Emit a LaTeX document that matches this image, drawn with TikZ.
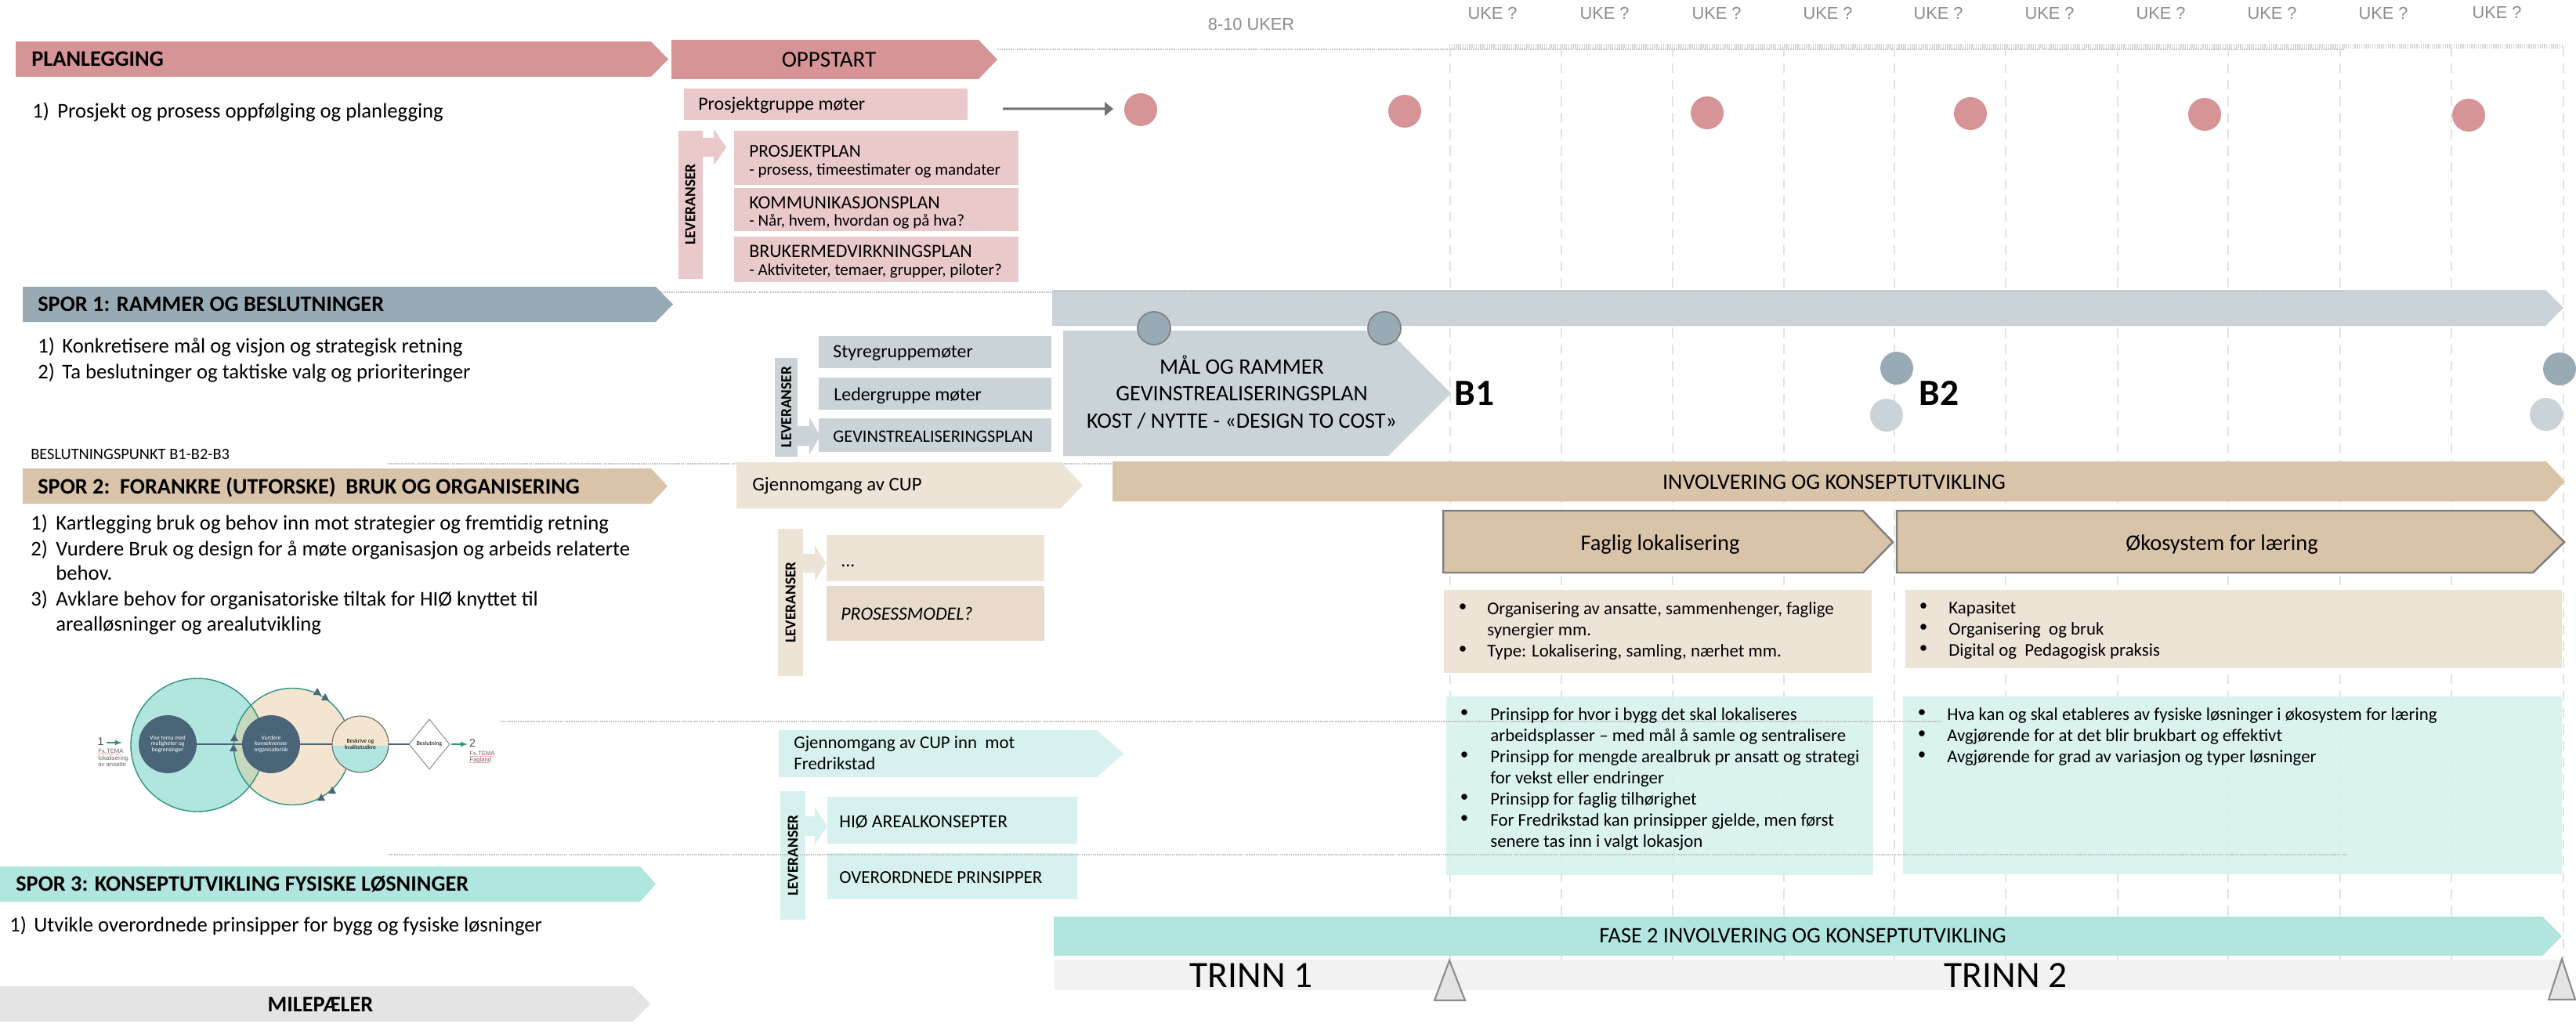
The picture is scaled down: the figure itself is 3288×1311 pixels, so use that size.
\documentclass[tikz,border=0pt]{standalone}
\usepackage{fontspec}
\setmainfont{Carlito}
\newfontfamily\arialf{Liberation Sans}
\usetikzlibrary{calc,shapes.geometric}
\definecolor{pinkD}{HTML}{D69496}
\definecolor{pinkL}{HTML}{EAC9CB}
\definecolor{blueD}{HTML}{98AAB4}
\definecolor{blueL}{HTML}{C9D3D8}
\definecolor{tanD}{HTML}{D9C3A9}
\definecolor{tanL}{HTML}{EDE3D7}
\definecolor{tanM}{HTML}{E8DBCC}
\definecolor{tealD}{HTML}{B0E6DF}
\definecolor{tealL}{HTML}{D7F2EE}
\definecolor{milD}{HTML}{E4E4E4}
\definecolor{trinnL}{HTML}{F2F2F2}
\definecolor{ringG}{HTML}{2F9484}
\definecolor{slateD}{HTML}{4A6578}
\definecolor{overlapC}{HTML}{C6D9BE}
\definecolor{beigeC}{HTML}{F3E5D0}
\definecolor{gridC}{HTML}{E3E3E3}
\definecolor{dotC}{HTML}{C4C4C4}
% x, y in reference pixels
\newcommand{\chev}[6]{% fill, x0, x1 body, x2 tip, ytop, ybot
  \fill[#1] (#2,#5) -- (#3,#5) -- (#4,{(#5+#6)/2}) -- (#3,#6) -- (#2,#6) -- cycle;}
\newcommand{\blockarrow}[6]{% fill, x0, xhead, xtip, shaft top, shaft bot
  \fill[#1] (#2,#5) -- (#3,#5) -- (#3,{#5-11}) -- (#4,{(#5+#6)/2}) -- (#3,{#6+11}) -- (#3,#6) -- (#2,#6) -- cycle;}
\tikzset{
  x=0.02cm, y=-0.02cm,
  txt/.style={anchor=west, inner sep=0, text height=9pt, text depth=0pt, font=\fontsize{15.2}{17}\selectfont},
  head/.style={anchor=west, inner sep=0, text height=10pt, text depth=0pt, font=\fontsize{16.1}{18}\selectfont\bfseries},
  lbl/.style={inner sep=0, text height=9pt, text depth=0pt, font=\fontsize{13.6}{16}\selectfont},
  small/.style={anchor=west, inner sep=0, text height=8pt, text depth=0.5pt, font=\fontsize{13}{15}\selectfont},
  lev/.style={rotate=90, inner sep=0, font=\fontsize{11}{14}\selectfont\bfseries},
  uke/.style={inner sep=0, text=black!45, font=\arialf\fontsize{12.4}{14}\selectfont},
  pinkdot/.style={circle, fill=pinkD, minimum size=0.84cm, inner sep=0},
  bluedot/.style={circle, fill=blueD, minimum size=0.84cm, inner sep=0},
  paledot/.style={circle, fill=blueL, minimum size=0.84cm, inner sep=0},
  ringdot/.style={circle, fill=blueD, draw=black!50, line width=1pt, minimum size=0.84cm, inner sep=0},
  dotline/.style={dotC, line width=1pt, dash pattern=on 1pt off 0.6pt},
  gridline/.style={gridC, line width=1.5pt, dash pattern=on 7pt off 5pt},
  tiny/.style={inner sep=0, align=center, font=\fontsize{4.3}{4.3}\selectfont},
  fx/.style={anchor=west, inner sep=0, text=black!60, font=\arialf\fontsize{4.4}{5}\selectfont},
  tri/.style={fill=slateD},
  bul/.style={inner sep=0, font=\fontsize{12}{15}\selectfont},
  outlined/.style={draw=black!50, line width=1.4pt, fill=tanD},
  bigc/.style={lbl, text height=10pt, font=\fontsize{16}{18}\selectfont},
  midl/.style={lbl, text height=10pt, text depth=2pt, font=\fontsize{16.2}{18}\selectfont},
}
\newcommand{\pbul}[4]{% bullet x, text x, y, text
  \node[bul] at (#1,#3-2) {•}; \node[small] at (#2,#3) {#4};}
\begin{document}
\begin{tikzpicture}
\useasboundingbox (0,0) rectangle (3288,1311);
\fill[white] (0,0) rectangle (3288,1311);

% top dotted lines
\coordinate (tl) at (1273,63); \coordinate (tr) at (2992,63);
\draw[dotline] (tl) -- (tr);
\coordinate (tl2) at (1850,59); \coordinate (tr2) at (3272,59);
\draw[dotC!70, line width=3pt, dash pattern=on 0.8pt off 0.8pt] (tl2) -- (tr2);

% vertical grid
\foreach \x in {1851,1993,2135,2277,2418,2560,2703,2844,2987,3129,3272}
  \draw[gridline] (\x,60) -- (\x,1225);

% tracks dotted
\coordinate (s1a) at (840,373); \coordinate (s1b) at (1345,373);
\draw[dotline] (s1a) -- (s1b);
\coordinate (s2a) at (495,592); \coordinate (s2b) at (1420,592);
\draw[dotline] (s2a) -- (s2b);

% PLANLEGGING
\chev{pinkD}{20}{831}{853}{53}{98}
\chev{pinkD}{857}{1249}{1273}{51}{101}
\node[head] (plan) at (40,76) {PLANLEGGING};
\node[lbl, text height=10pt, font=\fontsize{16.5}{18}\selectfont] (opp) at (1058,77) {OPPSTART};
\node[txt] (t1a) at (41,143) {1)};
\node[txt] (t1b) at (73,143) {Prosjekt og prosess oppfølging og planlegging};
\fill[pinkL] (873,113) rectangle (1235,153);
\node[small, font=\fontsize{13.6}{16}\selectfont] (pgm) at (891,134) {Prosjektgruppe møter};
\fill[pinkL] (866,167) rectangle (897,356);
\node[lev] (lev0) at (881,261) {LEVERANSER};
\blockarrow{pinkL}{897}{911}{927}{176}{200}
\fill[pinkL] (937,167) rectangle (1300,236);
\fill[pinkL] (937,240) rectangle (1300,295);
\fill[pinkL] (937,302) rectangle (1300,360);
\node[lbl, anchor=west, font=\fontsize{13.2}{16}\selectfont] (pp) at (956,193) {PROSJEKTPLAN};
\node[small, font=\fontsize{12}{14}\selectfont] (pp2) at (956,217) {- prosess, timeestimater og mandater};
\node[lbl, anchor=west] (kp) at (956,259) {KOMMUNIKASJONSPLAN};
\node[small, font=\fontsize{12}{14}\selectfont] (kp2) at (956,282) {- Når, hvem, hvordan og på hva?};
\node[lbl, anchor=west] (bp) at (956,321) {BRUKERMEDVIRKNINGSPLAN};
\node[small, font=\fontsize{12}{14}\selectfont] (bp2) at (956,345) {- Aktiviteter, temaer, grupper, piloter?};

% arrow and pink dots
\node[pinkdot] (p1) at (1456,140) {};
\node[pinkdot] (p2) at (1793,142) {};
\node[pinkdot] (p3) at (2179,144) {};
\node[pinkdot] (p4) at (2515,145) {};
\node[pinkdot] (p5) at (2814,146) {};
\node[pinkdot] (p6) at (3151,147) {};
\fill[black!55] (1280,137.5) -- (1410,137.5) -- (1410,130) -- (1421,139) -- (1410,148) -- (1410,140.5) -- (1280,140.5) -- cycle;

% week labels
\node[uke] (u0) at (1597,31) {8-10 UKER};
\foreach \x/\y [count=\i] in {1905/17,2048/17,2191/17,2333/17,2474/17,2616/17,2758/17,2900/17,3042/17,3187/16}
  \node[uke] (uk\i) at (\x,\y) {UKE ?};

% SPOR 1
\chev{blueD}{29}{837}{859}{366}{411}
\node[head] (s1) at (48,389) {SPOR 1: RAMMER OG BESLUTNINGER};
\node[txt] at (48,443) {1)};
\node[txt] at (79,443) {Konkretisere mål og visjon og strategisk retning};
\node[txt] at (48,476) {2)};
\node[txt] at (79,476) {Ta beslutninger og taktiske valg og prioriteringer};
\node[small, font=\fontsize{11.6}{14}\selectfont] (bes) at (39,580) {BESLUTNINGSPUNKT B1-B2-B3};
\chev{blueL}{1343}{3249}{3272}{370}{416}
\draw[dotline] (1345,372) -- (2992,372);
\chev{blueL}{1357}{1772}{1852}{422}{582}
\node[ringdot] (c1) at (1473,419) {};
\node[ringdot] (c2) at (1767,419) {};
\node[bigc] at (1585,469) {MÅL OG RAMMER};
\node[bigc] at (1585,503) {GEVINSTREALISERINGSPLAN};
\node[bigc] at (1585,538) {KOST / NYTTE - «DESIGN TO COST»};
\node[inner sep=0, font=\fontsize{27}{30}\selectfont\bfseries] (b1) at (1882,502) {B1};
\node[inner sep=0, font=\fontsize{27}{30}\selectfont\bfseries] (b2) at (2475,502) {B2};
\node[bluedot] (d1) at (2421,470) {};
\node[paledot] (d2) at (2408,530) {};
\node[bluedot] (d3) at (3267,471) {};
\node[paledot] (d4) at (3250,529) {};
\fill[blueL] (1045,429) rectangle (1342,470);
\fill[blueL] (1045,482) rectangle (1342,523);
\fill[blueL] (1045,534) rectangle (1342,577);
\node[small, font=\fontsize{13.6}{16}\selectfont] at (1063,450) {Styregruppemøter};
\node[small, font=\fontsize{13.6}{16}\selectfont] at (1064,505) {Ledergruppe møter};
\node[lbl, anchor=west, font=\fontsize{12.7}{16}\selectfont] at (1063,557) {GEVINSTREALISERINGSPLAN};
\fill[blueL] (989,457) rectangle (1018,583);
\node[lev] at (1003.5,519.5) {LEVERANSER};
\blockarrow{blueL}{1018}{1033}{1047}{544}{569}

% SPOR 2
\chev{tanD}{29}{831}{852}{598}{643}
\node[head] at (48,622) {SPOR 2:\ \ FORANKRE (UTFORSKE)\ \ BRUK OG ORGANISERING};
\node[txt] at (39,669) {1)};
\node[txt] at (71,669) {Kartlegging bruk og behov inn mot strategier og fremtidig retning};
\node[txt] at (39,702) {2)};
\node[txt] at (71,702) {Vurdere Bruk og design for å møte organisasjon og arbeids relaterte};
\node[txt] at (71,733) {behov.};
\node[txt] at (39,766) {3)};
\node[txt] at (71,766) {Avklare behov for organisatoriske tiltak for HIØ knyttet til};
\node[txt] at (71,798) {arealløsninger og arealutvikling};
\chev{tanL}{940}{1354}{1382}{590}{649}
\node[small, font=\fontsize{14.1}{16}\selectfont] at (960,620) {Gjennomgang av CUP};
\fill[tanL] (993,675) rectangle (1025,863);
\node[lev] at (1009,769) {LEVERANSER};
\blockarrow{tanL}{1025}{1040}{1054}{707}{731}
\fill[tanL] (1055,683) rectangle (1333,742);
\fill[tanM] (1055,748) rectangle (1333,818);
\node[lbl, anchor=west] at (1073,716) {...};
\node[lbl, anchor=west, font=\fontsize{13.6}{16}\selectfont\itshape] at (1073,784) {PROSESSMODEL?};

\chev{tanD}{1420}{3250}{3274}{589}{640}
\node[lbl, font=\fontsize{16.1}{18}\selectfont] at (2341,617) {INVOLVERING OG KONSEPTUTVIKLING};
\draw[outlined] (1842,652) -- (2378,652) -- (2416,692) -- (2378,731) -- (1842,731) -- cycle;
\draw[outlined] (2421,652) -- (3233,652) -- (3273,692) -- (3233,731) -- (2421,731) -- cycle;
\node[midl] (fl) at (2119,695) {Faglig lokalisering};
\node[midl] (ok) at (2836,695) {Økosystem for læring};

\fill[tanL] (1843,753) rectangle (2389,859);
\fill[tanL] (2432,753) rectangle (3270,853);
\pbul{1867}{1898}{778}{Organisering av ansatte, sammenhenger, faglige}
\node[small] at (1898,805) {synergier mm.};
\pbul{1867}{1898}{832}{Type: Lokalisering, samling, nærhet mm.}
\pbul{2455}{2487}{777}{Kapasitet}
\pbul{2455}{2487}{804}{Organisering\ \ og bruk}
\pbul{2455}{2487}{831}{Digital og\ \ Pedagogisk praksis}

% Fredrikstad box
\chev{tealL}{994}{1400}{1434}{932}{992}
\node[small, font=\fontsize{13}{16}\selectfont] at (1013,949) {Gjennomgang av CUP inn\ \ mot};
\node[small, font=\fontsize{13}{16}\selectfont] at (1013,976) {Fredrikstad};

% teal boxes (translucent so lines show through)
\fill[tealL, opacity=0.9] (1846,889) rectangle (2391,1117);
\fill[tealL, opacity=0.9] (2429,889) rectangle (3270,1116);
\coordinate (m1a) at (639,921); \coordinate (m1b) at (2480,921);
\draw[dotline] (m1a) -- (m1b);
\pbul{1869}{1902}{913}{Prinsipp for hvor i bygg det skal lokaliseres}
\node[small] at (1902,940) {arbeidsplasser – med mål å samle og sentralisere};
\pbul{1869}{1902}{967}{Prinsipp for mengde arealbruk pr ansatt og strategi}
\node[small] at (1902,994) {for vekst eller endringer};
\pbul{1869}{1902}{1021}{Prinsipp for faglig tilhørighet}
\pbul{1869}{1902}{1048}{For Fredrikstad kan prinsipper gjelde, men først}
\node[small] at (1902,1075) {senere tas inn i valgt lokasjon};
\pbul{2453}{2485}{913}{Hva kan og skal etableres av fysiske løsninger i økosystem for læring}
\pbul{2453}{2485}{940}{Avgjørende for at det blir brukbart og effektivt}
\pbul{2453}{2485}{967}{Avgjørende for grad av variasjon og typer løsninger}

\fill[tealL] (996,1010) rectangle (1028,1174);
\blockarrow{tealL}{1028}{1040}{1056}{1042}{1067}
\fill[tealL] (1056,1017) rectangle (1375,1077);
\fill[tealL] (1056,1089) rectangle (1375,1148);
\coordinate (m2a) at (495,1091); \coordinate (m2b) at (2996,1091);
\draw[dotline] (m2a) -- (m2b);
\node[lev] at (1012,1092) {LEVERANSER};
\node[lbl, anchor=west, font=\fontsize{13.4}{16}\selectfont] at (1071,1049) {HIØ AREALKONSEPTER};
\node[lbl, anchor=west, font=\fontsize{13.1}{16}\selectfont] at (1071,1120) {OVERORDNEDE PRINSIPPER};

% SPOR 3
\chev{tealD}{0}{817}{837}{1106}{1151}
\node[head] at (20,1129) {SPOR 3: KONSEPTUTVIKLING FYSISKE LØSNINGER};
\node[txt] at (12,1182) {1)};
\node[txt] at (43,1182) {Utvikle overordnede prinsipper for bygg og fysiske løsninger};

% FASE 2
\chev{tealD}{1345}{3245}{3270}{1170}{1220}
\node[lbl, font=\fontsize{16.1}{18}\selectfont] at (2301,1196) {FASE 2 INVOLVERING OG KONSEPTUTVIKLING};

% TRINN
\fill[trinnL] (1346,1225) rectangle (3270,1264);
\node[inner sep=0, font=\fontsize{27}{30}\selectfont] at (1597,1245) {TRINN 1};
\node[inner sep=0, font=\fontsize{27}{30}\selectfont] at (2560,1245) {TRINN 2};
\draw[fill=milD, draw=black!45, line width=1.2pt, line join=miter] (1850,1226) -- (1870,1277) -- (1831,1277) -- cycle;
\draw[fill=milD, draw=black!45, line width=1.2pt, line join=miter] (3270,1224) -- (3287,1276) -- (3253,1276) -- cycle;

% MILEPÆLER
\chev{milD}{0}{808}{830}{1259}{1304}
\node[lbl, text height=10pt, font=\fontsize{16.1}{18}\selectfont\bfseries] at (409,1283) {MILEPÆLER};

% small cycle diagram
\fill[tealD] (252,951) circle (85);
\fill[beigeC] (373,953) circle (74.5);
\begin{scope}
  \clip (252,951) circle (85);
  \fill[overlapC] (373,953) circle (74.5);
\end{scope}
\draw[ringG, line width=0.8pt] (252,951) circle (85);
\draw[ringG, line width=0.8pt] (373,953) circle (74.5);
\node[circle, fill=slateD, minimum size=1.48cm, inner sep=0] (v1) at (214,950) {};
\node[circle, fill=slateD, minimum size=1.48cm, inner sep=0] (v2) at (346,950) {};
\node[circle, minimum size=1.44cm, inner sep=0] (v3) at (460,950) {};
\fill[beigeC] (460,950) circle (36);
\begin{scope}
  \clip (420,952) rectangle (500,1000);
  \fill[tealD] (460,950) circle (36);
\end{scope}
\draw[black!60, line width=0.6pt] (460,950) circle (36);
\node[diamond, draw=black!50, fill=white, line width=0.5pt, minimum width=1.04cm, minimum height=1.28cm, inner sep=0, aspect=0.8] (v4) at (548,950) {};
\draw[slateD, line width=0.8pt] (v1) -- (v2);
\draw[slateD, line width=0.8pt] (v2) -- (v3);
\draw[slateD, line width=0.8pt] (v3) -- (v4);
\node[tiny, text=white] at (214,950) {Vise tema med\\muligheter og\\begrensinger};
\node[tiny, text=white] at (346,950) {Vurdere\\konsekvenser\\organisatorisk};
\node[tiny] at (460,950) {Beskrive og\\kvalitetssikre};
\node[tiny] at (548,950) {Beslutning};
\foreach \xx/\yy in {299/942,298/955,405/883,415/890,424/1009,410/1018}
  \fill[tri] (\xx,\yy-5) -- (\xx+5,\yy+4) -- (\xx-5,\yy+4) -- cycle;
\node[inner sep=0, text=black!70, font=\arialf\fontsize{8}{9}\selectfont] (n1) at (128.5,947) {1};
\coordinate (a1a) at (135.5,948); \coordinate (a1b) at (156,948);
\draw[ringG, line width=0.8pt, -{latex}] (a1a) -- (a1b);
\node[fx] at (125,959) {Fx.TEMA};
\node[fx] at (125,968) {lokalisering};
\node[fx] at (125,976) {av ansatte};
\draw[red!35, line width=0.3pt] (125,962.5) -- (155,962.5);
\node[inner sep=0, text=black!70, font=\arialf\fontsize{8}{9}\selectfont] (n2) at (603,949) {2};
\coordinate (a2a) at (576,950); \coordinate (a2b) at (597,950);
\draw[ringG, line width=0.8pt, -{latex}] (a2a) -- (a2b);
\node[fx] at (599,962) {Fx.TEMA};
\node[fx] at (599,970) {Fagland};
\draw[red!35, line width=0.3pt] (599,965.5) -- (630,965.5);
\draw[red!35, line width=0.3pt] (599,973.5) -- (626,973.5);
\end{tikzpicture}
\end{document}
